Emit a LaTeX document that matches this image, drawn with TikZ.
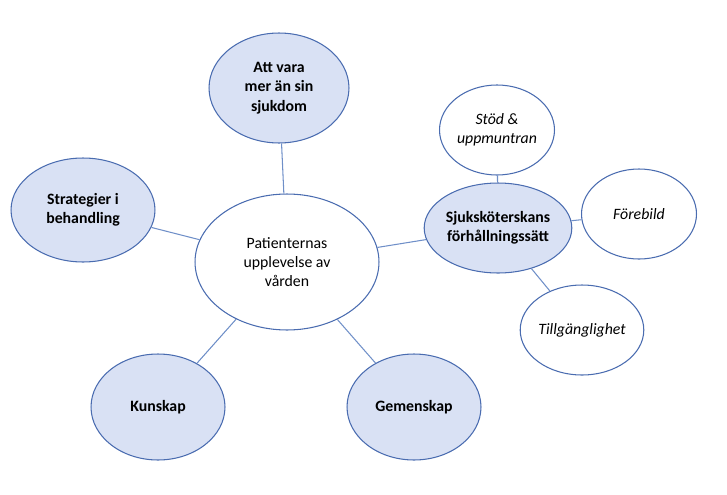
\documentclass[tikz,border=0pt]{standalone}
\usepackage{fontspec}
\setmainfont{Carlito}
\usetikzlibrary{shapes.geometric}

\definecolor{rimblue}{HTML}{4A6CB0}
\definecolor{fillblue}{HTML}{D9E1F4}
\definecolor{linkblue}{HTML}{6F8FC8}

\tikzset{
  bubble/.style = {ellipse, draw=rimblue, line width=0.6pt, inner sep=0pt,
    align=center, font=\fontsize{9}{11}\selectfont},
  theme/.style = {bubble, fill=fillblue, font=\fontsize{9}{11}\selectfont\bfseries},
  sub/.style = {bubble, fill=white, minimum width=2.3cm, minimum height=1.8cm,
    font=\fontsize{9}{11}\selectfont\itshape},
  link/.style = {draw=linkblue, line width=0.6pt}
}

\begin{document}
\begin{tikzpicture}[x=0.02cm, y=-0.02cm]
\useasboundingbox (0,0) rectangle (727,494);
% centre
\node[bubble, fill=white, minimum width=3.68cm, minimum height=2.72cm] (patient) at (287,262) {Patienternas\\upplevelse av\\vården};
% themes
\node[theme, minimum width=2.8cm, minimum height=2.2cm] (mer) at (279,88) {Att vara\\mer än sin\\sjukdom};
\node[theme, minimum width=2.88cm, minimum height=2.08cm] (strategi) at (83,210) {Strategier i\\behandling};
\node[theme, minimum width=2.68cm, minimum height=2.12cm] (kunskap) at (158,407) {Kunskap};
\node[theme, minimum width=2.68cm, minimum height=2.12cm] (gemenskap) at (414,407) {Gemenskap};
\node[theme, minimum width=2.8cm, minimum height=1.8cm] (sjukskot) at (498,228) {Sjuksköterskans\\förhållningssätt};
% sub themes
\node[sub] (stod) at (497,130) {Stöd \&\\uppmuntran};
\node[sub] (forebild) at (639,214) {Förebild};
\node[sub] (tillgang) at (582,330) {Tillgänglighet};

\draw[link] (patient) -- (mer);
\draw[link] (patient) -- (strategi);
\draw[link] (patient) -- (kunskap);
\draw[link] (patient) -- (gemenskap);
\draw[link] (patient) -- (sjukskot);
\draw[link] (sjukskot) -- (stod);
\draw[link] (sjukskot) -- (forebild);
\draw[link] (sjukskot) -- (tillgang);
\end{tikzpicture}
\end{document}
